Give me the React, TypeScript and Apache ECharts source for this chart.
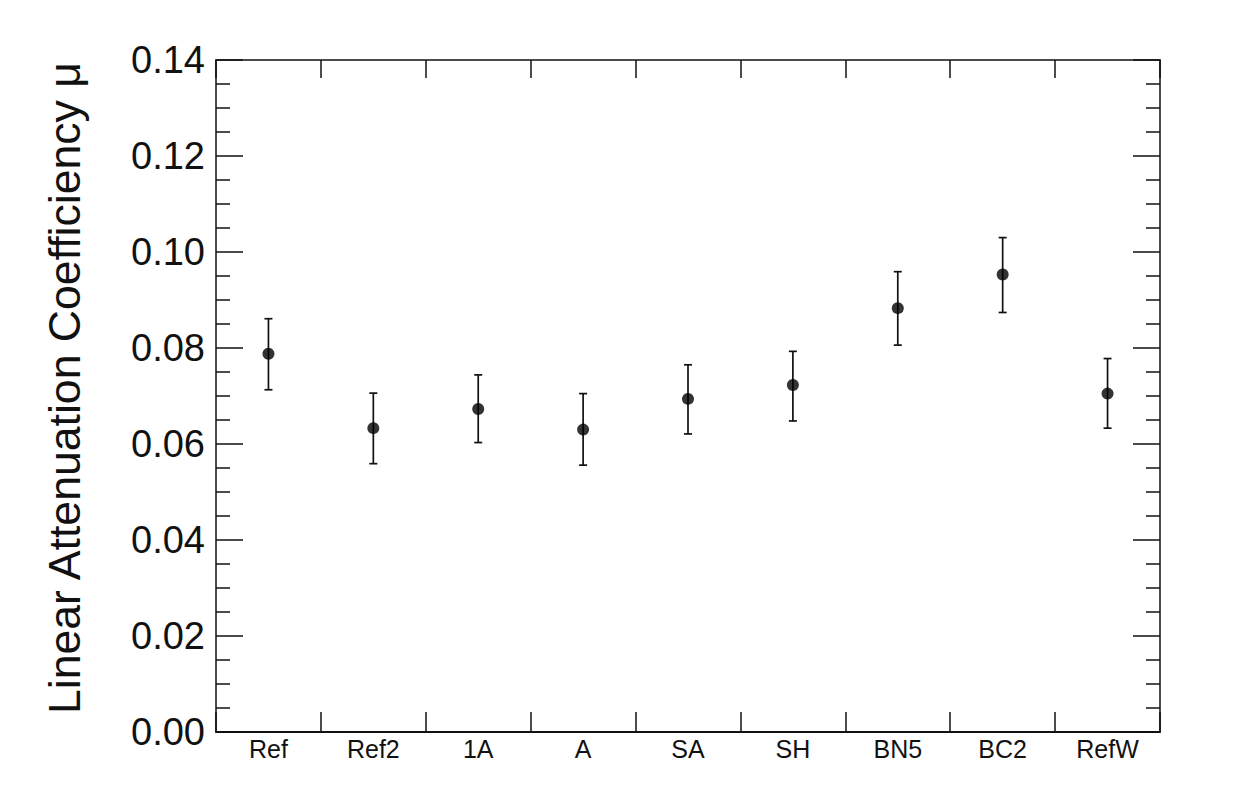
import React, { useEffect, useRef } from "react";
import * as echarts from "echarts";

const categories = ["Ref", "Ref2", "1A", "A", "SA", "SH", "BN5", "BC2", "RefW"];
const values = [0.0788, 0.0633, 0.0673, 0.063, 0.0694, 0.0723, 0.0883, 0.0953, 0.0705];
const errLow = [0.0713, 0.0559, 0.0603, 0.0556, 0.0621, 0.0648, 0.0806, 0.0874, 0.0633];
const errHigh = [0.0861, 0.0706, 0.0744, 0.0705, 0.0765, 0.0793, 0.0959, 0.103, 0.0778];
const yTitle = "Linear Attenuation Coefficiency \u03bc";

const FONT = "'Liberation Sans', Arial, Helvetica, sans-serif";
const INK = "#111";

export default function App() {
  const ref = useRef<HTMLDivElement>(null);
  useEffect(() => {
    if (!ref.current) return;
    const chart = echarts.init(ref.current, null, { renderer: "svg" });
    const errData = categories.map((_, i) => [i, errLow[i], errHigh[i]]);
    const valueAxisBase = {
      type: "value",
      min: 0,
      max: 0.14,
      interval: 0.02,
      splitLine: { show: false },
      axisLine: { show: true, lineStyle: { color: INK, width: 1.5 } },
      axisTick: { show: true, inside: true, length: 27, lineStyle: { color: INK, width: 1.5 } },
      minorTick: { show: true, splitNumber: 4, length: 14, lineStyle: { color: INK, width: 1.5 } },
      minorSplitLine: { show: false },
    };
    chart.setOption({
      animation: false,
      backgroundColor: "#fff",
      grid: { left: 216, right: 79, top: 60, bottom: 77, containLabel: false },
      xAxis: [
        {
          type: "category",
          data: categories,
          position: "bottom",
          boundaryGap: true,
          axisLine: { show: true, onZero: false, lineStyle: { color: INK, width: 2 } },
          axisTick: { show: true, inside: true, length: 20, lineStyle: { color: INK, width: 1.5 } },
          axisLabel: { color: INK, fontSize: 25, fontFamily: FONT, margin: 4 },
          splitLine: { show: false },
        },
        {
          type: "category",
          data: categories,
          position: "top",
          boundaryGap: true,
          axisLine: { show: true, onZero: false, lineStyle: { color: INK, width: 1.5 } },
          axisTick: { show: true, inside: true, length: 18, lineStyle: { color: INK, width: 1.5 } },
          axisLabel: { show: false },
          splitLine: { show: false },
        },
      ],
      yAxis: [
        {
          ...valueAxisBase,
          position: "left",
          axisLabel: {
            color: INK,
            fontSize: 38,
            fontFamily: FONT,
            margin: 11,
            formatter: (v: number) => v.toFixed(2),
          },
        },
        {
          ...valueAxisBase,
          position: "right",
          axisLabel: { show: false },
        },
      ],
      graphic: [
        {
          type: "text",
          x: 64,
          y: 62,
          rotation: Math.PI / 2,
          style: {
            text: yTitle,
            font: `44.6px ${FONT}`,
            fill: INK,
            textAlign: "right",
            textVerticalAlign: "middle",
          },
        },
      ],
      series: [
        {
          type: "custom",
          name: "err",
          xAxisIndex: 0,
          yAxisIndex: 0,
          data: errData,
          renderItem: (params: any, api: any) => {
            const x = api.value(0);
            const lo = api.coord([x, api.value(1)]);
            const hi = api.coord([x, api.value(2)]);
            const cap = 4;
            const style = { stroke: INK, lineWidth: 1.7 };
            return {
              type: "group",
              children: [
                { type: "line", shape: { x1: lo[0], y1: lo[1], x2: hi[0], y2: hi[1] }, style },
                { type: "line", shape: { x1: lo[0] - cap, y1: lo[1], x2: lo[0] + cap, y2: lo[1] }, style },
                { type: "line", shape: { x1: hi[0] - cap, y1: hi[1], x2: hi[0] + cap, y2: hi[1] }, style },
              ],
            };
          },
          z: 2,
        },
        {
          type: "scatter",
          name: "mu",
          data: values,
          symbol: "circle",
          symbolSize: 12,
          itemStyle: { color: "#000" },
          z: 3,
        },
      ],
    });
    return () => chart.dispose();
  }, []);
  return (
    <div
      ref={ref}
      style={{ position: "absolute", left: 0, top: 0, width: 1239, height: 809 }}
    />
  );
}
